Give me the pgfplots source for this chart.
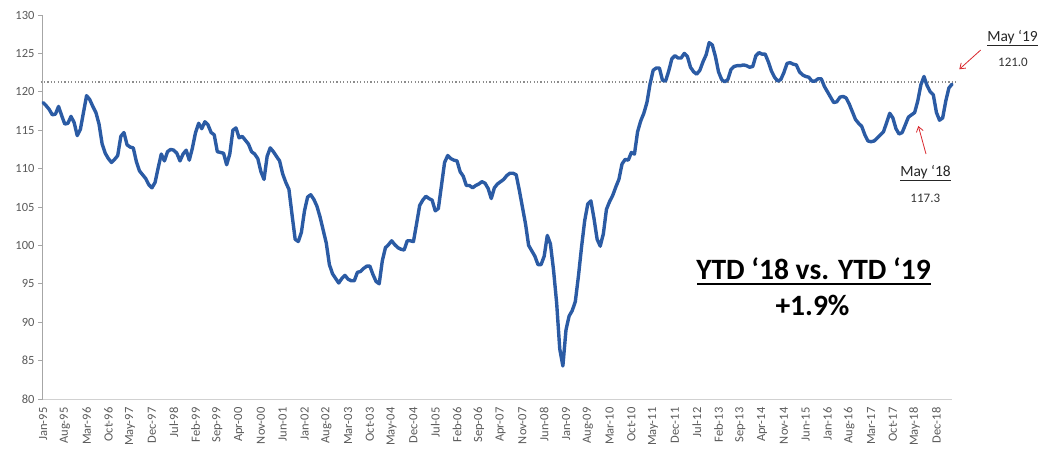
\documentclass[border=0pt]{standalone}
\usepackage{pgfplots}
\pgfplotsset{compat=1.18}
\usepackage{pgfplotstable}
\usepackage{fontspec}
\setmainfont{Carlito}
\usetikzlibrary{arrows.meta}
\definecolor{lineblue}{HTML}{2B5BA4}
\definecolor{ticktext}{HTML}{595959}
\definecolor{arrowred}{HTML}{D9262C}
\pgfplotstableread{
idx val
0 118.6
1 118.2
2 117.7
3 117.0
4 117.1
5 118.1
6 116.9
7 115.8
8 115.9
9 116.8
10 116.0
11 114.3
12 115.1
13 117.3
14 119.5
15 119.0
16 118.1
17 117.3
18 115.8
19 113.2
20 112.0
21 111.3
22 110.8
23 111.2
24 111.7
25 114.2
26 114.7
27 113.1
28 112.8
29 112.7
30 110.9
31 109.7
32 109.2
33 108.7
34 107.9
35 107.5
36 108.2
37 110.1
38 111.9
39 111.0
40 112.2
41 112.5
42 112.4
43 112.0
44 111.0
45 111.9
46 112.4
47 111.1
48 112.7
49 114.7
50 115.9
51 115.2
52 116.1
53 115.7
54 114.7
55 114.4
56 112.2
57 112.1
58 112.0
59 110.5
60 111.9
61 115.0
62 115.3
63 114.0
64 114.2
65 113.7
66 113.2
67 112.2
68 111.9
69 111.3
70 109.6
71 108.6
72 111.6
73 112.7
74 112.2
75 111.6
76 111.0
77 109.3
78 108.2
79 107.3
80 104.0
81 100.8
82 100.5
83 101.7
84 104.5
85 106.3
86 106.6
87 106.0
88 105.1
89 103.7
90 102.0
91 100.3
92 97.5
93 96.3
94 95.7
95 95.1
96 95.7
97 96.1
98 95.6
99 95.4
100 95.4
101 96.5
102 96.6
103 97.0
104 97.3
105 97.3
106 96.2
107 95.3
108 95.0
109 98.0
110 99.7
111 100.1
112 100.6
113 100.1
114 99.7
115 99.5
116 99.4
117 100.6
118 100.6
119 100.5
120 102.8
121 105.2
122 105.9
123 106.4
124 106.1
125 105.9
126 104.5
127 104.8
128 107.8
129 110.8
130 111.7
131 111.3
132 111.1
133 111.0
134 109.6
135 109.0
136 107.8
137 107.8
138 107.5
139 107.8
140 108.0
141 108.3
142 108.1
143 107.4
144 106.1
145 107.5
146 108.0
147 108.3
148 108.6
149 109.1
150 109.4
151 109.4
152 109.2
153 107.2
154 105.0
155 102.8
156 100.0
157 99.3
158 98.6
159 97.5
160 97.5
161 98.6
162 101.3
163 100.2
164 96.8
165 92.5
166 86.5
167 84.3
168 89.0
169 90.8
170 91.5
171 92.7
172 96.0
173 99.8
174 103.2
175 105.4
176 105.8
177 103.5
178 100.8
179 99.9
180 101.5
181 104.7
182 105.7
183 106.5
184 107.6
185 108.6
186 110.6
187 111.2
188 111.1
189 112.1
190 111.9
191 114.8
192 116.2
193 117.2
194 118.6
195 121.0
196 122.8
197 123.1
198 123.1
199 121.5
200 121.4
201 122.7
202 124.3
203 124.7
204 124.4
205 124.4
206 125.0
207 124.6
208 123.2
209 122.6
210 122.3
211 122.8
212 123.9
213 124.8
214 126.4
215 126.1
216 124.6
217 122.6
218 121.6
219 121.3
220 121.6
221 122.9
222 123.3
223 123.4
224 123.4
225 123.5
226 123.4
227 123.2
228 123.3
229 124.7
230 125.1
231 124.9
232 124.9
233 123.9
234 122.7
235 121.9
236 121.4
237 121.6
238 122.5
239 123.7
240 123.8
241 123.6
242 123.5
243 122.6
244 122.2
245 122.0
246 121.9
247 121.4
248 121.4
249 121.7
250 121.7
251 120.7
252 120.0
253 119.3
254 118.6
255 118.7
256 119.3
257 119.4
258 119.2
259 118.4
260 117.4
261 116.4
262 115.9
263 115.5
264 114.4
265 113.6
266 113.5
267 113.6
268 114.0
269 114.4
270 114.8
271 116.0
272 117.2
273 116.6
274 115.2
275 114.5
276 114.7
277 115.7
278 116.7
279 117.0
280 117.3
281 118.8
282 120.9
283 122.0
284 120.8
285 120.0
286 119.6
287 117.3
288 116.3
289 116.6
290 118.8
291 120.5
292 121.0
}\indexdata
\begin{document}
\begin{tikzpicture}
\begin{axis}[
  at={(43pt,49pt)}, anchor=south west,
  scale only axis, width=909pt, height=384pt,
  xmin=0, xmax=292, ymin=80, ymax=130,
  clip=false,
  axis lines*=left,
  x axis line style={draw=black!18, line width=1pt},
  y axis line style={draw=black!35, line width=1pt},
  xtick={0,7,...,287},
  xticklabels={Jan-95,Aug-95,Mar-96,Oct-96,May-97,Dec-97,Jul-98,Feb-99,Sep-99,Apr-00,Nov-00,Jun-01,Jan-02,Aug-02,Mar-03,Oct-03,May-04,Dec-04,Jul-05,Feb-06,Sep-06,Apr-07,Nov-07,Jun-08,Jan-09,Aug-09,Mar-10,Oct-10,May-11,Dec-11,Jul-12,Feb-13,Sep-13,Apr-14,Nov-14,Jun-15,Jan-16,Aug-16,Mar-17,Oct-17,May-18,Dec-18},
  x tick label style={rotate=90, anchor=east, font=\fontsize{12.5}{12.5}\selectfont, text=ticktext},
  major x tick style={draw=none},
  ytick={80,85,...,130},
  y tick label style={font=\fontsize{12.5}{12.5}\selectfont, text=ticktext},
  y tick style={draw=black!35, line width=1pt},
  tick align=outside, major tick length=5pt,
  /pgf/number format/assume math mode=true,
]
\addplot[draw=black!45, line width=1.5pt, dash pattern=on 1.3pt off 2.1pt] coordinates {(-0.8,121.3) (293.5,121.3)};
\addplot[lineblue, line width=3.4pt, line join=round, line cap=round] table[x=idx, y=val] {\indexdata};
\end{axis}
% annotations (picture coordinates in pt, y measured from bottom)
\node[anchor=base, font=\fontsize{29.5}{29.5}\selectfont\bfseries] at (813.5pt,168.7pt) {YTD ‘18 vs. YTD ‘19};
\draw[line width=1.5pt] (697pt,164pt) -- (930.7pt,164pt);
\node[anchor=base, font=\fontsize{29.5}{29.5}\selectfont\bfseries] at (812.5pt,133pt) {+1.9\%};
\node[anchor=base east, font=\fontsize{15.5}{15.5}\selectfont, text=black!85, inner sep=1pt] at (1039pt,406.3pt) {\underline{May ‘19}};
\node[anchor=base, font=\fontsize{13}{13}\selectfont, text=black!80] at (1013pt,381.3pt) {121.0};
\node[anchor=base, font=\fontsize{15.5}{15.5}\selectfont, text=black!85] at (925.5pt,272pt) {\underline{May ‘18}};
\node[anchor=base, font=\fontsize{13}{13}\selectfont, text=black!80] at (925.3pt,245.7pt) {117.3};
\draw[arrowred, line width=0.8pt, -{Straight Barb[length=5pt,width=7pt]}] (980.7pt,398pt) -- (959.3pt,378.7pt);
\draw[arrowred, line width=0.8pt, -{Straight Barb[length=5pt,width=7pt]}] (926pt,294pt) -- (918.3pt,322pt);
\pgfresetboundingbox
\path[use as bounding box] (0,0) rectangle (1039pt,448pt);
\end{tikzpicture}
\end{document}
